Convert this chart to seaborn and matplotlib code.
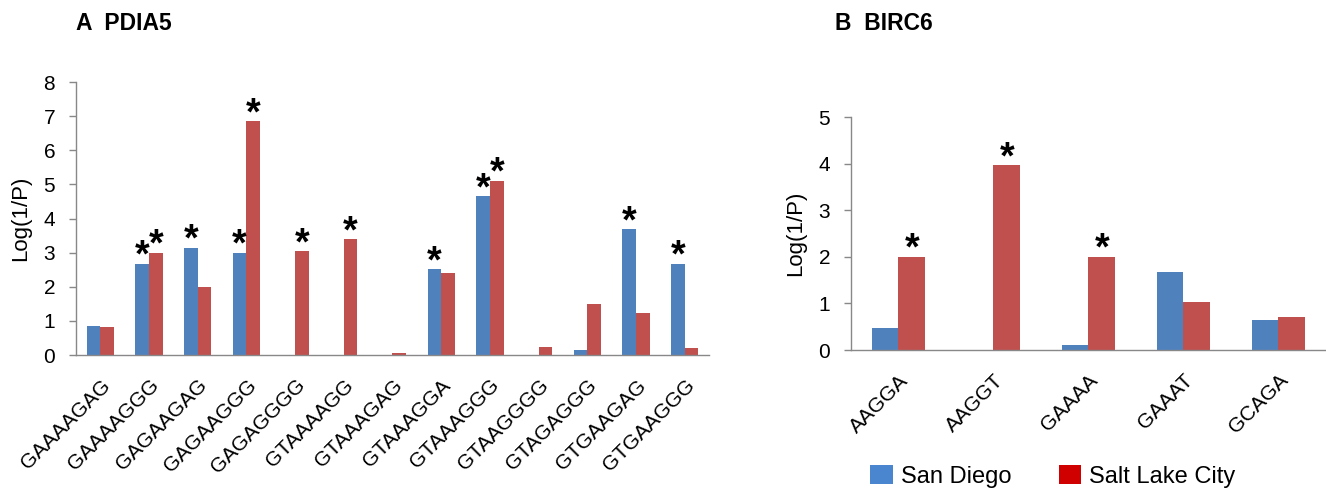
import numpy as np
import pandas as pd
import seaborn as sns
import matplotlib.pyplot as plt
from matplotlib.patches import Patch

# panel A: PDIA5
motifs_a = ['GAAAAGAG', 'GAAAAGGG', 'GAGAAGAG', 'GAGAAGGG', 'GAGAGGGG', 'GTAAAAGG',
            'GTAAAGAG', 'GTAAAGGA', 'GTAAAGGG', 'GTAAGGGG', 'GTAGAGGG', 'GTGAAGAG', 'GTGAAGGG']
sd_a = [0.86, 2.68, 3.14, 3.0, 0.0, 0.0, 0.0, 2.51, 4.65, 0.0, 0.15, 3.69, 2.68]
slc_a = [0.83, 3.0, 2.0, 6.86, 3.04, 3.4, 0.05, 2.4, 5.11, 0.22, 1.5, 1.22, 0.2]
sd_a_star = [0, 1, 1, 1, 0, 0, 0, 1, 1, 0, 0, 1, 1]
slc_a_star = [0, 1, 0, 1, 1, 1, 0, 0, 1, 0, 0, 0, 0]

# panel B: BIRC6
motifs_b = ['AAGGA', 'AAGGT', 'GAAAA', 'GAAAT', 'GCAGA']
sd_b = [0.47, 0.0, 0.1, 1.67, 0.64]
slc_b = [2.0, 3.96, 2.0, 1.02, 0.70]
sd_b_star = [0, 0, 0, 0, 0]
slc_b_star = [1, 1, 1, 0, 0]

cities = ['San Diego', 'Salt Lake City']
bar_colors = ['#4F81BD', '#C0504D']
legend_colors = ['#4A86D0', '#D00000']

sns.set_style('white')
plt.rcParams['font.family'] = ['Liberation Sans', 'DejaVu Sans']
plt.rcParams['text.color'] = 'black'
plt.rcParams['axes.labelcolor'] = 'black'
plt.rcParams['xtick.labelcolor'] = 'black'
plt.rcParams['ytick.labelcolor'] = 'black'

fig = plt.figure(figsize=(13.26, 4.9), dpi=100)
ax_a = fig.add_axes([0.0573, 0.2755, 0.4774, 0.557])
ax_b = fig.add_axes([0.6418, 0.2857, 0.358, 0.4755])


def draw(ax, motifs, sd, slc, sd_star, slc_star, ymax):
    df = pd.DataFrame({'motif': motifs * 2,
                       'value': sd + slc,
                       'city': [cities[0]] * len(motifs) + [cities[1]] * len(motifs)})
    sns.barplot(data=df, x='motif', y='value', hue='city', palette=bar_colors,
                saturation=1, width=0.56, linewidth=0, legend=False, ax=ax)
    for cont, stars in zip(ax.containers, [sd_star, slc_star]):
        for bar, s in zip(cont, stars):
            if s:
                ax.annotate('*', (bar.get_x() + bar.get_width() / 2, bar.get_height()),
                            xytext=(0, 5), textcoords='offset points',
                            ha='center', va='center', fontsize=27, fontweight='bold')
    n = len(motifs)
    ax.set_xlim(-0.5, n - 0.5)
    ax.set_ylim(0, ymax)
    ax.set_yticks(range(ymax + 1))
    ax.set_xticks(np.arange(n + 1) - 0.5, minor=True)
    ax.tick_params(axis='x', which='major', length=0, pad=15, labelsize=15)
    ax.tick_params(axis='x', which='minor', length=5, color='#888888', width=1, direction='out')
    ax.tick_params(axis='y', length=5, color='#888888', width=1, direction='out', labelsize=15, pad=10)
    ax.tick_params(axis='both', bottom=True, left=True)
    plt.setp(ax.get_xticklabels(), rotation=45, ha='right', rotation_mode='anchor')
    ax.set_xlabel('')
    ax.set_ylabel('Log(1/P)', fontsize=16, labelpad=9)
    for side in ['top', 'right']:
        ax.spines[side].set_visible(False)
    for side in ['left', 'bottom']:
        ax.spines[side].set_color('#888888')
        ax.spines[side].set_linewidth(1)


draw(ax_a, motifs_a, sd_a, slc_a, sd_a_star, slc_a_star, 8)
draw(ax_b, motifs_b, sd_b, slc_b, sd_b_star, slc_b_star, 5)

fig.text(0.057, 0.953, 'A  PDIA5', fontsize=16.5, fontweight='bold', va='center')
fig.text(0.630, 0.953, 'B  BIRC6', fontsize=16.5, fontweight='bold', va='center')

handles = [Patch(facecolor=c, edgecolor='none') for c in legend_colors]
fig.legend(handles, cities, loc='center', bbox_to_anchor=(0.794, 0.027), ncol=2,
           frameon=False, fontsize=17, handlelength=0.95, handleheight=0.85,
           handletextpad=0.35, columnspacing=2.0)

fig.savefig('out.png', dpi=100)
